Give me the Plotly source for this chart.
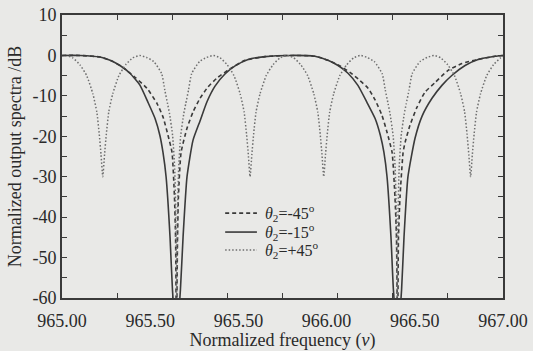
import plotly.graph_objects as go

# ---- data (frequency, dB) ----
solid_x = [965.000, 965.082, 965.172, 965.218, 965.263, 965.308, 965.354, 965.390, 965.422,
           965.444, 965.458, 965.472, 965.490, 965.501, 965.519, 965.537, 965.549, 965.567,
           965.594, 965.626, 965.658, 965.694, 965.739, 965.785, 965.844, 965.921, 966.034,
           966.147, 966.206, 966.252, 966.297, 966.342, 966.383, 966.420, 966.444, 966.460,
           966.474, 966.492, 966.503, 966.522, 966.540, 966.551, 966.569, 966.601, 966.633,
           966.678, 966.723, 966.769, 966.828, 966.887, 966.964, 967.000]
solid_y = [0, 0, -0.4, -1.2, -2.5, -4.4, -7.4, -11.6, -15.6,
           -19.8, -24, -30, -45, -58, -70, -58, -45, -30,
           -21.0, -16.2, -11.4, -7.6, -4.6, -2.6, -1.0, -0.3, 0,
           -0.2, -1.2, -2.5, -4.4, -7.4, -11.6, -15.6, -19.8, -24,
           -30, -45, -58, -70, -58, -45, -30, -20.5, -15,
           -10.6, -7.4, -4.9, -2.5, -1.0, -0.2, 0]

dash_x = [965.000, 965.082, 965.172, 965.227, 965.277, 965.331, 965.385, 965.431, 965.458,
          965.481, 965.499, 965.510, 965.515, 965.519, 965.524, 965.528, 965.540, 965.567,
          965.594, 965.626, 965.662, 965.707, 965.771, 965.830, 965.921, 966.034, 966.147,
          966.206, 966.261, 966.306, 966.351, 966.388, 966.420, 966.451, 966.474, 966.497,
          966.510, 966.517, 966.522, 966.526, 966.533, 966.547, 966.556, 966.578, 966.610,
          966.646, 966.692, 966.751, 966.814, 966.887, 966.964, 967.000]
dash_y = [0, 0, -0.4, -1.4, -3.0, -5.4, -8.1, -11.9, -15.2,
          -19.8, -24, -35, -45, -70, -45, -35, -24, -18,
          -14, -10.6, -7.8, -5.4, -3.0, -1.2, -0.3, 0, -0.2,
          -1.2, -2.6, -4.2, -6.2, -8.1, -11, -14.8, -19, -24,
          -35, -45, -70, -45, -35, -24, -21.5, -17.3, -12.8,
          -9.1, -6.7, -3.7, -2.0, -1.0, -0.2, 0]

dot_x = [965.000, 965.018, 965.049, 965.081, 965.112, 965.140, 965.158, 965.169, 965.177,
         965.185, 965.193, 965.201, 965.212, 965.230, 965.258, 965.289, 965.321, 965.352,
         965.384, 965.416, 965.452, 965.466, 965.479, 965.488, 965.502, 965.511, 965.5155,
         965.520, 965.5245, 965.529, 965.538, 965.552, 965.561, 965.574, 965.588, 965.624,
         965.656, 965.687, 965.717, 965.749, 965.780, 965.808, 965.826, 965.837, 965.845,
         965.853, 965.861, 965.869, 965.880, 965.898, 965.926, 965.957, 965.989, 966.020,
         966.051, 966.083, 966.114, 966.142, 966.160, 966.171, 966.179, 966.187, 966.195,
         966.203, 966.214, 966.232, 966.260, 966.291, 966.323, 966.353, 966.384, 966.416,
         966.452, 966.466, 966.479, 966.488, 966.502, 966.511, 966.5155, 966.520, 966.5245,
         966.529, 966.538, 966.552, 966.561, 966.574, 966.588, 966.624, 966.656, 966.687,
         966.717, 966.749, 966.780, 966.808, 966.826, 966.837, 966.845, 966.853, 966.861,
         966.869, 966.880, 966.898, 966.926, 966.957, 966.989, 967.000]
dot_y = [-0.1, 0, -0.6, -2.3, -5.0, -9.5, -14, -19.5, -24.5,
         -30, -24.5, -19.5, -14, -9.5, -5.0, -2.3, -0.6, 0,
         -0.5, -1.5, -4.5, -8.5, -12, -14.5, -20, -28, -38,
         -60, -38, -28, -20, -14.5, -12, -8.5, -4.5, -1.5,
         -0.5, 0, -0.6, -2.3, -5.0, -9.5, -14, -19.5, -24.5,
         -30, -24.5, -19.5, -14, -9.5, -5.0, -2.3, -0.6, 0,
         -0.6, -2.3, -5.0, -9.5, -14, -19.5, -24.5, -30, -24.5,
         -19.5, -14, -9.5, -5.0, -2.3, -0.6, 0, -0.5, -1.5,
         -4.5, -8.5, -12, -14.5, -20, -28, -38, -60, -38,
         -28, -20, -14.5, -12, -8.5, -4.5, -1.5, -0.5, 0,
         -0.6, -2.3, -5.0, -9.5, -14, -19.5, -24.5, -30, -24.5,
         -19.5, -14, -9.5, -5.0, -2.3, -0.6, -0.2]

names = ["<i>θ</i><sub>2</sub>=-45<sup>o</sup>",
         "<i>θ</i><sub>2</sub>=-15<sup>o</sup>",
         "<i>θ</i><sub>2</sub>=+45<sup>o</sup>"]

x_minor_ticks = [965.00, 965.25, 965.50, 965.75, 966.00, 966.25, 966.50, 966.75, 967.00]
x_label_pos = [965.0, 965.4, 965.8, 966.2, 966.6, 967.0]
x_label_text = ["965.00", "965.50", "965.50", "966.00", "966.50", "967.00"]
y_ticks = [-60, -55, -50, -45, -40, -35, -30, -25, -20, -15, -10, -5, 0, 5, 10]
y_text = ["-60", "", "-50", "", "-40", "", "-30", "", "-20", "", "-10", "", "0", "", "10"]

ink = "#3a3a3a"
dot_ink = "#6e6e6e"
bg = "#e9e9e7"
font = "Liberation Serif"

styles = [dict(color=ink, width=1.6, dash="4px,3px"),
          dict(color=ink, width=1.6),
          dict(color=dot_ink, width=1.5, dash="1.5px,2px")]

fig = go.Figure()
for xs, ys, nm, st in [(dash_x, dash_y, names[0], styles[0]),
                       (solid_x, solid_y, names[1], styles[1]),
                       (dot_x, dot_y, names[2], styles[2])]:
    fig.add_trace(go.Scatter(x=xs, y=ys, mode="lines", name=nm, showlegend=False,
                             line=dict(shape="spline", smoothing=0.5, **st)))
fig.add_trace(go.Scatter(x=[965.0], y=[None], xaxis="x2", showlegend=False,
                         mode="lines", hoverinfo="skip"))

# legend drawn as keys + labels (paper coordinates of the plot area)
leg_rows = [0.300, 0.233, 0.170]
for row, nm, st in zip(leg_rows, names, styles):
    fig.add_shape(type="line", xref="paper", yref="paper", x0=0.370, x1=0.442,
                  y0=row, y1=row, line=st)
    fig.add_annotation(x=0.456, y=row, xref="paper", yref="paper", text=nm,
                       showarrow=False, xanchor="left", yanchor="middle",
                       font=dict(size=16, family=font, color="#2a2a2a"))

fig.update_layout(
    width=533, height=351,
    margin=dict(l=62, r=30, t=15, b=53),
    paper_bgcolor=bg, plot_bgcolor=bg,
    font=dict(family=font, size=18, color="#2a2a2a"),
    showlegend=False,
    xaxis=dict(range=[965, 967], tickvals=x_minor_ticks, ticktext=[""] * len(x_minor_ticks),
               ticks="inside", ticklen=5, tickwidth=1.3, tickcolor=ink,
               showline=True, linecolor=ink, linewidth=1.6, mirror="ticks",
               showgrid=False, zeroline=False, automargin=False),
    xaxis2=dict(range=[965, 967], overlaying="x", anchor="y", side="bottom",
                tickvals=x_label_pos, ticktext=x_label_text,
                ticks="outside", ticklen=6, tickcolor="rgba(0,0,0,0)",
                showline=False, showgrid=False, zeroline=False, automargin=False,
                tickfont=dict(size=18, family=font),
                title=dict(text="Normalized frequency (<i>v</i>)", standoff=4,
                           font=dict(size=18, family=font))),
    yaxis=dict(range=[-60, 10], tickvals=y_ticks, ticktext=y_text,
               ticks="inside", ticklen=5, tickwidth=1.3, tickcolor=ink,
               showline=True, linecolor=ink, linewidth=1.6, mirror="ticks",
               showgrid=False, zeroline=False, automargin=False,
               title=dict(text="Normalized output spectra /dB", standoff=6,
                          font=dict(size=18, family=font))),
)

fig.write_html("out.html")
